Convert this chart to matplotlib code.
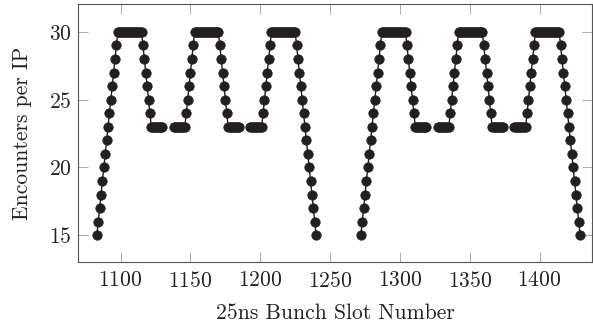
import numpy as np
import matplotlib
matplotlib.use("Agg")
import matplotlib.pyplot as plt

# ---- data ----
batch_first = [15, 16, 17, 18, 19, 20, 21, 22, 23, 24, 25, 26, 27, 28, 29, 30,
               30, 30, 30, 30, 30, 30, 30, 30, 30, 30, 30, 30, 30, 30, 30, 30, 30,
               29, 28, 27, 26, 25, 24, 23,
               23, 23, 23, 23, 23, 23, 23, 23]
batch_middle = [23, 23, 23, 23, 23, 23, 23, 23, 23,
                24, 25, 26, 27, 28, 29, 30,
                30, 30, 30, 30, 30, 30, 30, 30, 30, 30, 30, 30, 30, 30, 30, 30, 30,
                29, 28, 27, 26, 25, 24, 23,
                23, 23, 23, 23, 23, 23, 23, 23]
batch_last = [23, 23, 23, 23, 23, 23, 23, 23, 23,
              24, 25, 26, 27, 28, 29, 30,
              30, 30, 30, 30, 30, 30, 30, 30, 30, 30, 30, 30, 30, 30, 30, 30,
              30, 29, 28, 27, 26, 25, 24, 23, 22, 21, 20, 19, 18, 17, 16, 15]
batch_starts = [1083, 1138, 1193, 1272, 1327, 1382]
batch_values = [batch_first, batch_middle, batch_last,
                batch_first, batch_middle, batch_last]

x_ticks = [1100, 1150, 1200, 1250, 1300, 1350, 1400]
y_ticks = [15, 20, 25, 30]
x_label = "25ns Bunch Slot Number"
y_label = "Encounters per IP"

# ---- style ----
plt.rcParams['font.family'] = ['cmr10', 'DejaVu Serif']
plt.rcParams['axes.formatter.use_mathtext'] = True
plt.rcParams['mathtext.fontset'] = 'cm'

fig = plt.figure(figsize=(5.93, 3.29), dpi=100)
ax = fig.add_axes([0.132, 0.2027, 0.867, 0.785])

mark_color = '#231f20'
for start, vals in zip(batch_starts, batch_values):
    xs = start + np.arange(len(vals))
    ax.plot(xs, vals, color=mark_color, lw=1.0, marker='o', markersize=6.8,
            markerfacecolor=mark_color, markeredgecolor=mark_color,
            markeredgewidth=0.5, zorder=3, clip_on=False)

ax.set_xlim(1069.7, 1437.8)
ax.set_ylim(13.0, 32.05)
ax.set_xticks(x_ticks)
ax.set_yticks(y_ticks)
ax.tick_params(axis='both', which='major', direction='in', length=7.2,
               width=0.6, color='#a0a0a0', labelsize=15.5, labelcolor='#222222',
               top=True, right=True)
ax.tick_params(axis='x', pad=6)
ax.tick_params(axis='y', pad=5)
for s in ax.spines.values():
    s.set_linewidth(0.8)
    s.set_color('#555555')

ax.set_xlabel(x_label, fontsize=15.5, color='#222222', labelpad=9)
ax.set_ylabel(y_label, fontsize=15.5, color='#222222', labelpad=12)

fig.savefig("out.png", dpi=100)
